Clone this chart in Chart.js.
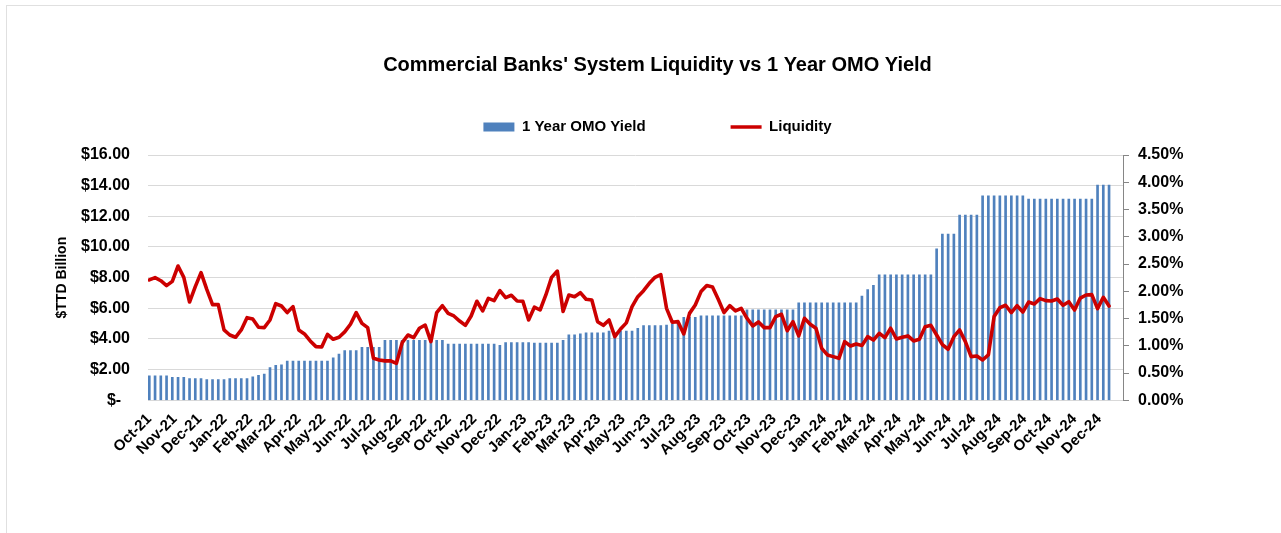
<!DOCTYPE html>
<html>
<head>
<meta charset="utf-8">
<script src="https://cdn.jsdelivr.net/npm/chart.js@4.4.1/dist/chart.umd.min.js"></script>
<style>
html,body{margin:0;padding:0;background:#fff;overflow:hidden;}
#wrap{position:relative;width:1281px;height:533px;overflow:hidden;}
#frame{position:absolute;left:6px;top:5px;width:1300px;height:560px;border:1.5px solid #e0e0e0;box-sizing:border-box;}
#c{position:absolute;left:0;top:0;}
</style>
</head>
<body>
<div id="wrap"><div id="frame"></div><canvas id="c" width="1281" height="533"></canvas></div>
<script>
// ---------------- data ----------------
const chartTitle = "Commercial Banks' System Liquidity vs 1 Year OMO Yield";
const leftAxisTitle = '$TTD Billion';
const seriesNames = ['1 Year OMO Yield', 'Liquidity'];
const startDate = '2021-10-01';   // first weekly observation
const monthLabels = ['Oct-21','Nov-21','Dec-21','Jan-22','Feb-22','Mar-22','Apr-22','May-22','Jun-22','Jul-22','Aug-22','Sep-22',
  'Oct-22','Nov-22','Dec-22','Jan-23','Feb-23','Mar-23','Apr-23','May-23','Jun-23','Jul-23','Aug-23','Sep-23',
  'Oct-23','Nov-23','Dec-23','Jan-24','Feb-24','Mar-24','Apr-24','May-24','Jun-24','Jul-24','Aug-24','Sep-24',
  'Oct-24','Nov-24','Dec-24'];

// 1 Year OMO Yield (%), weekly
const omoYield = [
  0.45,0.45,0.45,0.45,0.42,0.42,0.42,0.40,0.40,0.40,
  0.38,0.38,0.38,0.38,0.40,0.40,0.40,0.40,0.43,0.46,
  0.48,0.60,0.64,0.65,0.72,0.72,0.72,0.72,0.72,0.72,
  0.72,0.72,0.78,0.85,0.91,0.91,0.91,0.97,0.97,0.97,
  0.97,1.10,1.10,1.10,1.10,1.10,1.10,1.10,1.10,1.10,
  1.10,1.10,1.03,1.03,1.03,1.03,1.03,1.03,1.03,1.03,
  1.03,1.01,1.06,1.06,1.06,1.06,1.06,1.05,1.05,1.05,
  1.05,1.05,1.10,1.20,1.20,1.22,1.24,1.24,1.24,1.24,
  1.27,1.24,1.27,1.27,1.27,1.32,1.37,1.37,1.37,1.37,
  1.38,1.40,1.42,1.52,1.52,1.52,1.55,1.55,1.55,1.55,
  1.55,1.55,1.55,1.55,1.66,1.66,1.66,1.66,1.66,1.66,
  1.66,1.66,1.66,1.79,1.79,1.79,1.79,1.79,1.79,1.79,
  1.79,1.79,1.79,1.79,1.91,2.03,2.11,2.30,2.30,2.30,
  2.30,2.30,2.30,2.30,2.30,2.30,2.30,2.78,3.05,3.05,
  3.05,3.40,3.40,3.40,3.40,3.75,3.75,3.75,3.75,3.75,
  3.75,3.75,3.75,3.69,3.69,3.69,3.69,3.69,3.69,3.69,
  3.69,3.69,3.69,3.69,3.69,3.95,3.95,3.95
];

// Liquidity ($TTD billion), weekly
const liquidity = [
  7.85,8.00,7.80,7.48,7.76,8.76,8.02,6.41,7.41,8.33,
  7.24,6.24,6.24,4.59,4.26,4.11,4.59,5.39,5.30,4.76,
  4.74,5.24,6.30,6.15,5.72,6.11,4.59,4.33,3.87,3.50,
  3.48,4.30,3.98,4.11,4.46,4.96,5.72,5.02,4.74,2.74,
  2.63,2.57,2.57,2.41,3.76,4.26,4.09,4.70,4.91,3.83,
  5.72,6.17,5.67,5.50,5.17,4.89,5.50,6.46,5.83,6.65,
  6.50,7.15,6.70,6.85,6.48,6.46,5.24,6.07,5.89,6.87,
  8.02,8.43,5.80,6.87,6.76,7.02,6.59,6.54,5.13,4.89,
  5.24,4.15,4.65,5.05,6.11,6.76,7.15,7.63,8.02,8.20,
  6.00,5.09,5.13,4.33,5.67,6.22,7.09,7.48,7.39,6.59,
  5.72,6.17,5.83,6.00,5.35,4.85,5.11,4.74,4.74,5.46,
  5.61,4.54,5.13,4.20,5.35,4.96,4.70,3.39,2.96,2.85,
  2.74,3.83,3.54,3.67,3.58,4.15,3.93,4.37,4.09,4.70,
  4.00,4.11,4.20,3.87,3.98,4.80,4.89,4.26,3.63,3.33,
  4.15,4.59,3.83,2.85,2.89,2.63,2.96,5.46,6.04,6.20,
  5.72,6.17,5.76,6.41,6.28,6.63,6.50,6.48,6.61,6.20,
  6.43,5.89,6.67,6.87,6.89,5.98,6.72,6.15
];

// ---------------- chart ----------------
const FONT = "'Liberation Sans', Arial, sans-serif";
Chart.defaults.font.family = FONT;
Chart.defaults.color = '#000';

const DAY = 86400000;
const t0 = Date.parse(startDate + 'T00:00:00Z');
const weekDays = omoYield.map((_, i) => i * 7);           // day offset of each weekly observation
const MON = {Jan:0,Feb:1,Mar:2,Apr:3,May:4,Jun:5,Jul:6,Aug:7,Sep:8,Oct:9,Nov:10,Dec:11};
const monthTicks = monthLabels.map(l => {
  const [m, y] = l.split('-');
  return Math.round((Date.UTC(2000 + Number(y), MON[m], 1) - t0) / DAY);
});

const BLUE = '#4f81bd';
const RED = '#cc0000';

const legendGap = {
  id: 'legendGap',
  beforeLayout(chart) {
    const lg = chart.legend;
    if (lg && !lg.__gap) {
      const orig = lg.fit;
      lg.fit = function () { orig.call(this); this.height += 10.5; };
      lg.__gap = true;
    }
  }
};

new Chart(document.getElementById('c'), {
  type: 'bar',
  data: {
    datasets: [
      {
        type: 'bar',
        label: seriesNames[0],
        data: omoYield.map((v, i) => ({x: weekDays[i], y: v})),
        yAxisID: 'y1',
        backgroundColor: BLUE,
        borderWidth: 0,
        barThickness: 2,
        order: 2
      },
      {
        type: 'line',
        label: seriesNames[1],
        data: liquidity.map((v, i) => ({x: weekDays[i], y: v})),
        yAxisID: 'y',
        borderColor: RED,
        backgroundColor: RED,
        borderWidth: 3.6,
        borderJoinStyle: 'round',
        borderCapStyle: 'round',
        pointRadius: 0,
        tension: 0,
        fill: false,
        order: 1
      }
    ]
  },
  options: {
    responsive: false,
    animation: false,
    devicePixelRatio: 1,
    layout: {padding: {left: 34, right: 0, top: 0, bottom: 0}},
    plugins: {
      title: {
        display: true, text: chartTitle, color: '#000',
        font: {family: FONT, size: 20, weight: 'bold'},
        padding: {top: 53, bottom: 32.5}
      },
      legend: {
        display: true, position: 'top',
        labels: {
          usePointStyle: true, pointStyleWidth: 31, boxHeight: 9, padding: 10,
          color: '#000', font: {family: FONT, size: 15, weight: 'bold'},
          sort: (a, b) => a.datasetIndex - b.datasetIndex,
          generateLabels(chart) {
            const items = Chart.defaults.plugins.legend.labels.generateLabels(chart);
            items.forEach(it => {
              if (it.datasetIndex === 0) {
                it.pointStyle = 'rect'; it.fillStyle = BLUE; it.strokeStyle = BLUE; it.lineWidth = 0;
                it.text = it.text + ' '.repeat(18);
              } else {
                it.pointStyle = 'line'; it.strokeStyle = RED; it.fillStyle = RED; it.lineWidth = 3.6;
              }
            });
            return items;
          }
        }
      },
      tooltip: {enabled: false}
    },
    scales: {
      x: {
        type: 'linear', position: 'bottom', min: -1.6, max: 1186, offset: false,
        grid: {display: false},
        border: {display: true, color: '#d9d9d9', width: 1},
        afterBuildTicks: s => { s.ticks = monthTicks.map(v => ({value: v})); },
        ticks: {
          autoSkip: false, minRotation: 45, maxRotation: 45, padding: 2,
          color: '#000', font: {family: FONT, size: 15, weight: 'bold'},
          callback: (v, i) => monthLabels[i]
        },
        afterFit: s => { s.height = 533 - 400.3; }
      },
      y: {
        type: 'linear', position: 'left', min: 0, max: 16,
        ticks: {
          stepSize: 2, padding: 18, color: '#000',
          font: {family: FONT, size: 16, weight: 'bold'},
          callback: v => v === 0 ? '$-  ' : '$' + v.toFixed(2)
        },
        grid: {color: '#d9d9d9', lineWidth: 1, drawTicks: false},
        border: {display: false},
        title: {
          display: true, text: leftAxisTitle, color: '#000',
          font: {family: FONT, size: 14, weight: 'bold'},
          padding: {top: 19.6, bottom: 0}
        },
        afterFit: s => { s.width = 148 - 34; }
      },
      y1: {
        type: 'linear', position: 'right', min: 0, max: 4.5,
        ticks: {
          stepSize: 0.5, padding: 9, color: '#000',
          font: {family: FONT, size: 16, weight: 'bold'},
          callback: v => v.toFixed(2) + '%'
        },
        grid: {drawOnChartArea: false, drawTicks: true, tickLength: 6, color: '#868686'},
        border: {display: true, color: '#868686'},
        afterFit: s => { s.width = 1281 - 1123; }
      }
    }
  },
  plugins: [legendGap]
});
</script>
</body>
</html>
